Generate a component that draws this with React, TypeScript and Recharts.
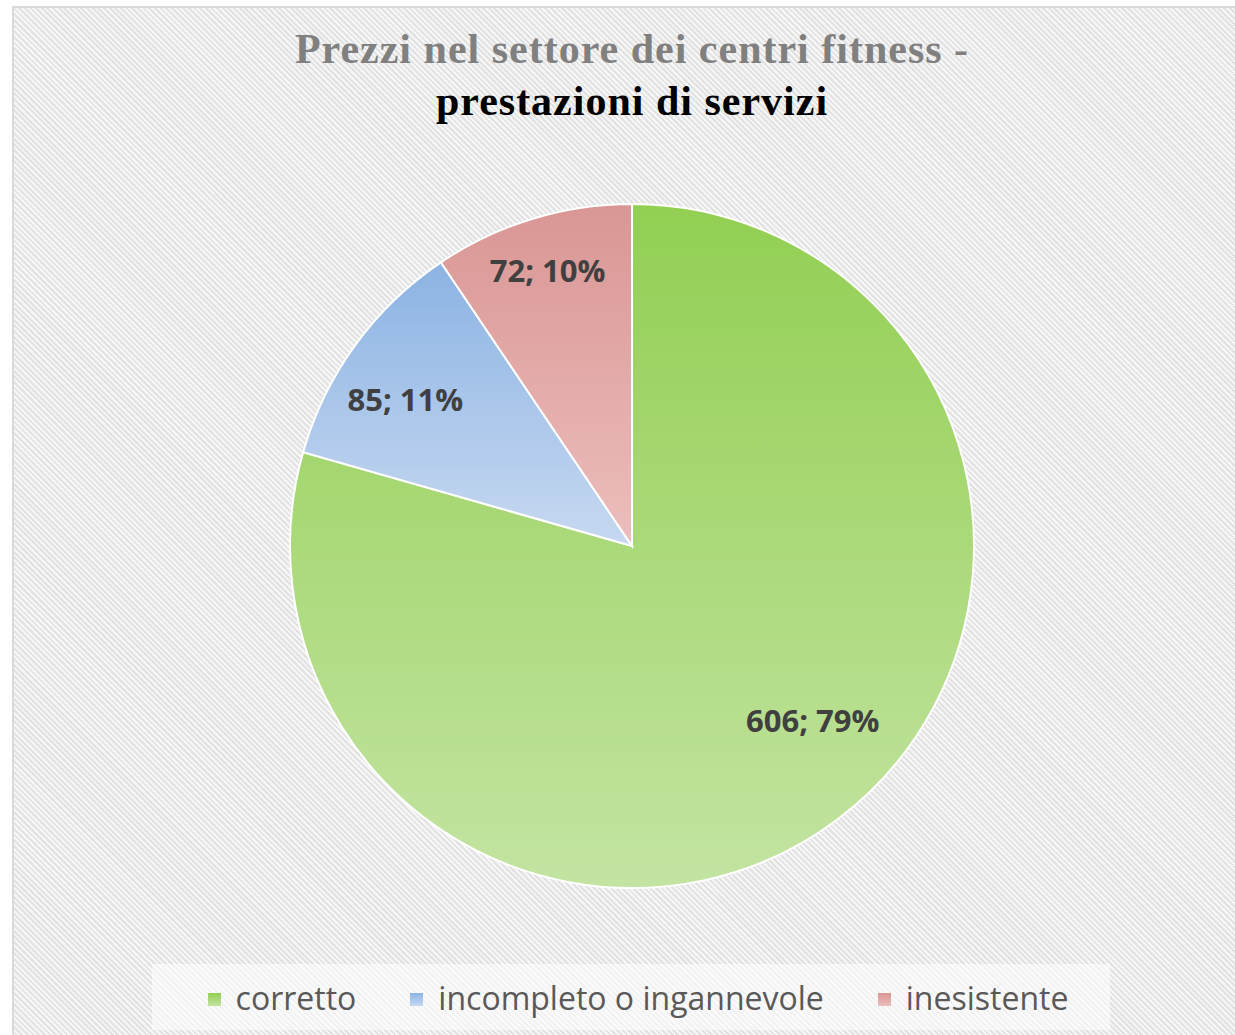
import React from "react";
import { PieChart, Pie, Cell, Legend } from "recharts";

const categories = ["corretto", "incompleto o ingannevole", "inesistente"];
const values = [606, 85, 72];
const percents = ["79%", "11%", "10%"];

const colorsTop = ["#92cf52", "#8cb3e3", "#d99694"];
const colorsBottom = ["#c3e4a2", "#c7d9f1", "#ecbebd"];

const data = categories.map((name, i) => ({ name, value: values[i], pct: percents[i] }));

const RADIAN = Math.PI / 180;

// Excel "best fit" label placement, roughly: angle shift and radius fraction per slice
const labelAngleShift = [9, 3, 0];
const labelRadius = [0.734, 0.79, 0.845];

const renderLabel = (props: any) => {
  const { cx, cy, midAngle, outerRadius, index } = props;
  const angle = midAngle + labelAngleShift[index];
  const r = outerRadius * labelRadius[index];
  const x = cx + r * Math.cos(-angle * RADIAN);
  const y = cy + r * Math.sin(-angle * RADIAN);
  return (
    <text
      x={x}
      y={y}
      textAnchor="middle"
      dominantBaseline="central"
      fill="#404040"
      fontFamily="'Open Sans', sans-serif"
      fontWeight={700}
      fontSize={31}
    >
      {`${data[index].value}; ${data[index].pct}`}
    </text>
  );
};

const renderLegend = (props: any) => {
  const { payload } = props;
  return (
    <div
      style={{
        display: "flex",
        justifyContent: "center",
        alignItems: "center",
        height: "100%",
        paddingLeft: 14,
        boxSizing: "border-box",
        background: "rgba(255,255,255,0.55)",
        fontFamily: "'Open Sans', sans-serif",
        fontSize: 32,
        color: "#595959",
      }}
    >
      {payload.map((entry: any, i: number) => (
        <div key={entry.value} style={{ display: "flex", alignItems: "center", marginRight: i < payload.length - 1 ? 54 : 0 }}>
          <span
            style={{
              display: "inline-block",
              width: 13,
              height: 13,
              marginRight: 15,
              marginTop: 4,
              background: `linear-gradient(${colorsTop[i]}, ${colorsBottom[i]})`,
            }}
          />
          <span>{entry.value}</span>
        </div>
      ))}
    </div>
  );
};

export default function App() {
  return (
    <div style={{ position: "absolute", left: 0, top: 0, width: 1235, height: 1035, overflow: "hidden", background: "#fff" }}>
      <div
        style={{
          position: "absolute",
          left: 12,
          top: 6,
          width: 1240,
          height: 1040,
          border: "2px solid #d9d9d9",
          background: "repeating-linear-gradient(45deg, #f6f6f6 0px, #f6f6f6 2px, #e2e2e2 2px, #e2e2e2 4px)",
        }}
      />
      <div
        style={{
          position: "absolute",
          left: 0,
          width: 1264,
          top: 23,
          textAlign: "center",
          fontFamily: "'Liberation Serif', serif",
          fontWeight: 700,
          fontSize: 42,
          letterSpacing: 1,
          lineHeight: "52px",
        }}
      >
        <div style={{ color: "#808080" }}>Prezzi nel settore dei centri fitness -</div>
        <div style={{ color: "#000" }}>prestazioni di servizi</div>
      </div>
      <div style={{ position: "absolute", left: 0, top: 0 }}>
        <PieChart width={1235} height={1035} margin={{ top: 0, right: 0, bottom: 0, left: 0 }}>
          <defs>
            {categories.map((c, i) => (
              <linearGradient key={c} id={`grad${i}`} x1="0" y1="0" x2="0" y2="1">
                <stop offset="0%" stopColor={colorsTop[i]} />
                <stop offset="100%" stopColor={colorsBottom[i]} />
              </linearGradient>
            ))}
          </defs>
          <Pie
            data={data}
            dataKey="value"
            nameKey="name"
            cx={632}
            cy={546}
            outerRadius={342}
            startAngle={90}
            endAngle={-270}
            stroke="#ffffff"
            strokeWidth={2}
            label={renderLabel}
            labelLine={false}
            isAnimationActive={false}
          >
            {data.map((d, i) => (
              <Cell key={d.name} fill={`url(#grad${i})`} />
            ))}
          </Pie>
          <Legend
            content={renderLegend}
            wrapperStyle={{ position: "absolute", left: 152, top: 964, width: 958, height: 66 }}
          />
        </PieChart>
      </div>
    </div>
  );
}
